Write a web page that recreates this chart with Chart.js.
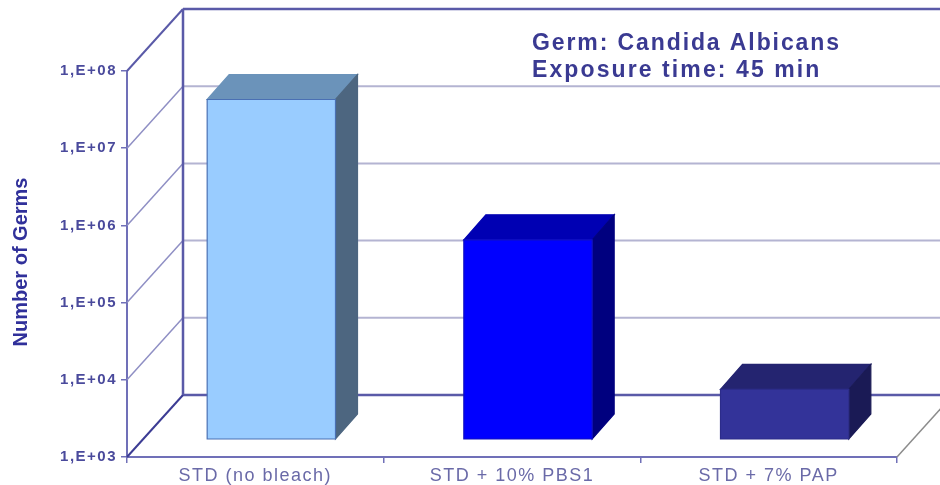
<!DOCTYPE html>
<html>
<head>
<meta charset="utf-8">
<title>Candida Albicans</title>
<script src="https://cdn.jsdelivr.net/npm/chart.js@4"></script>
<style>
    html, body { margin: 0; padding: 0; background: #fff; overflow: hidden; }
    canvas { display: block; filter: blur(0.6px); }
</style>
</head>
<body>
<canvas id="germChart" width="940" height="485"></canvas>
<script>
/*************************************************
 * 1. Data
 *************************************************/
const categories = ["STD (no bleach)", "STD + 10% PBS1", "STD + 7% PAP"];
const germCounts = [2.5e7, 3.8e5, 4.4e3];
const yTickValues = [1e3, 1e4, 1e5, 1e6, 1e7, 1e8];
const yTickLabels = ["1,E+03", "1,E+04", "1,E+05", "1,E+06", "1,E+07", "1,E+08"];
const headerLines = ["Germ: Candida Albicans", "Exposure time: 45 min"];
const yAxisTitle = "Number of Germs";

/*************************************************
 * 2. Look of the 3D box
 *************************************************/
const FONT = '"Liberation Sans", Arial, sans-serif';
const AXIS_COLOR = "#7070b8";
const WALL_COLOR = "#5a5aa8";
const GRID_COLOR = "#b4b4d2";
const WALL_DX = 56, WALL_DY = -62;    // depth of the floor
const BAR_DX = 16, BAR_DY = -18;      // bar front face, set back from the axis plane
const BOX_DX = 22, BOX_DY = -25;      // depth of a bar

const barFaces = [
    { front: "#99ccff", top: "#6b93ba", side: "#4d6680", edge: "#4a70b4" },
    { front: "#0000ff", top: "#0000b3", side: "#00007f", edge: "#1010c0" },
    { front: "#333399", top: "#242470", side: "#1a1a55", edge: "#2c2c8a" }
];

function line(ctx, x1, y1, x2, y2, color, width) {
    ctx.strokeStyle = color;
    ctx.lineWidth = width;
    ctx.beginPath();
    ctx.moveTo(x1, y1);
    ctx.lineTo(x2, y2);
    ctx.stroke();
}

function poly(ctx, pts, fill, edge) {
    ctx.beginPath();
    pts.forEach((p, i) => i ? ctx.lineTo(p[0], p[1]) : ctx.moveTo(p[0], p[1]));
    ctx.closePath();
    ctx.fillStyle = fill;
    ctx.fill();
    ctx.strokeStyle = edge;
    ctx.lineWidth = 1.2;
    ctx.stroke();
}

/*************************************************
 * 3. Plugin: walls, boxes, header text
 *************************************************/
const box3d = {
    id: "box3d",
    beforeDraw(chart) {
        // the source picture is stretched sideways, so the axis labels are tracked out
        chart.ctx.letterSpacing = "1.5px";
    },
    beforeDatasetsDraw(chart) {
        const { ctx, chartArea: a, scales: { y } } = chart;
        const backL = a.left + WALL_DX;
        const backR = a.right + WALL_DX;

        yTickValues.forEach((v, i) => {
            const py = y.getPixelForValue(v);
            const first = i === 0;
            const last = i === yTickValues.length - 1;
            const back = py + WALL_DY;
            line(ctx, backL, back, backR, back, first || last ? WALL_COLOR : GRID_COLOR, first || last ? 2.5 : 2);
            line(ctx, a.left, py, backL, back, first ? "#3c3c94" : last ? WALL_COLOR : "#8f8fc4", first || last ? 2 : 1.5);
        });
        line(ctx, backL, y.top + WALL_DY, backL, y.bottom + WALL_DY, WALL_COLOR, 2.5);
        line(ctx, a.right, y.bottom, backR, y.bottom + WALL_DY, "#8c8c8c", 1.5);
    },
    beforeDatasetDraw(chart) {
        const { ctx } = chart;
        chart.getDatasetMeta(0).data.forEach((bar, i) => {
            const c = barFaces[i];
            const half = bar.width / 2;
            const l = bar.x - half + BAR_DX, r = bar.x + half + BAR_DX;
            const t = bar.y + BAR_DY, b = bar.base + BAR_DY;
            poly(ctx, [[l, t], [l + BOX_DX, t + BOX_DY], [r + BOX_DX, t + BOX_DY], [r, t]], c.top, c.top);
            poly(ctx, [[r, t], [r + BOX_DX, t + BOX_DY], [r + BOX_DX, b + BOX_DY], [r, b]], c.side, c.side);
            poly(ctx, [[l, t], [r, t], [r, b], [l, b]], c.front, c.edge);
        });
        return false;
    },
    afterDraw(chart) {
        const { ctx } = chart;
        ctx.save();
        ctx.textAlign = "left";
        ctx.textBaseline = "middle";
        ctx.fillStyle = "#3a3a92";
        ctx.font = "bold 23px " + FONT;
        ctx.letterSpacing = "1.9px";
        ctx.fillText(headerLines[0], 532, 43.5);
        ctx.letterSpacing = "2.1px";
        ctx.fillText(headerLines[1], 532, 70.5);

        ctx.letterSpacing = "0px";
        ctx.translate(21, 262);
        ctx.rotate(-Math.PI / 2);
        ctx.textAlign = "center";
        ctx.fillStyle = "#30309a";
        ctx.font = "bold 20px " + FONT;
        ctx.fillText(yAxisTitle, 0, 0);
        ctx.restore();
    }
};

/*************************************************
 * 4. Chart
 *************************************************/
new Chart(document.getElementById("germChart"), {
    type: "bar",
    data: {
        labels: categories,
        datasets: [{
            data: germCounts,
            backgroundColor: barFaces.map(c => c.front),
            barPercentage: 0.5,
            categoryPercentage: 1
        }]
    },
    options: {
        responsive: false,
        animation: false,
        layout: { padding: { top: 71, right: 43, left: 0, bottom: 0 } },
        plugins: { legend: { display: false }, tooltip: { enabled: false } },
        scales: {
            x: {
                afterFit: s => { s.height = 28; },
                border: { color: AXIS_COLOR, width: 2 },
                grid: { drawOnChartArea: false, color: AXIS_COLOR, tickLength: 6, lineWidth: 1.5 },
                ticks: {
                    color: "#6a6aa8",
                    font: { family: FONT, size: 18 },
                    padding: 2,
                    maxRotation: 0,
                    minRotation: 0,
                    autoSkip: false
                }
            },
            y: {
                type: "logarithmic",
                min: yTickValues[0],
                max: yTickValues[yTickValues.length - 1],
                afterFit: s => { s.width = 127; },
                afterBuildTicks: s => { s.ticks = yTickValues.map(v => ({ value: v, major: true })); },
                border: { color: AXIS_COLOR, width: 2 },
                grid: { drawOnChartArea: false, color: AXIS_COLOR, tickLength: 6, lineWidth: 1.5 },
                ticks: {
                    color: "#4a4a9c",
                    font: { family: FONT, size: 15, weight: "bold" },
                    padding: 4,
                    callback: v => yTickLabels[yTickValues.indexOf(v)]
                }
            }
        }
    },
    plugins: [box3d]
});
</script>
</body>
</html>
